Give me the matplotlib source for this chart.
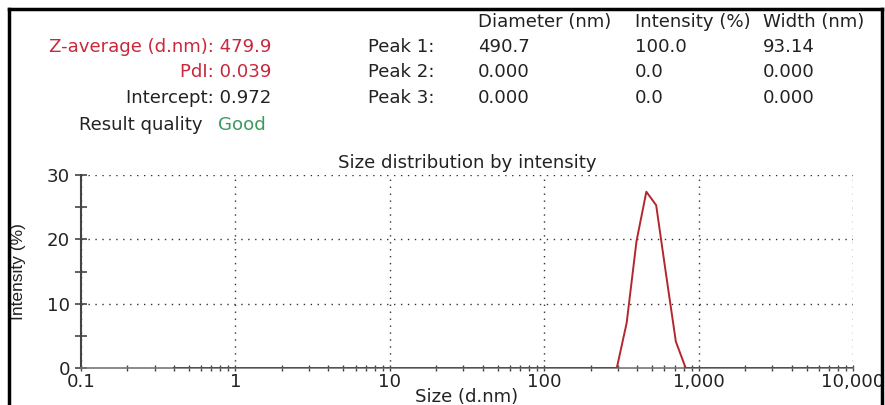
import matplotlib
matplotlib.use("Agg")
import matplotlib.pyplot as plt
from matplotlib.lines import Line2D
from matplotlib.ticker import FixedLocator, FuncFormatter, NullFormatter

plt.rcParams["font.family"] = ["DejaVu Sans"]

# size distribution by intensity
size_nm = [0.4, 295.3, 342.0, 396.1, 458.7, 531.2, 615.1, 712.4, 825.0, 10000]
intensity = [0.0, 0.0, 7.0, 19.7, 27.4, 25.3, 14.6, 4.1, 0.0, 0.0]

summary_labels = ["Z-average (d.nm): 479.9", "PdI: 0.039", "Intercept: 0.972"]
summary_colors = ["#c8283c", "#c8283c", "#222222"]
quality = "Good"

peak_names = ["Peak 1:", "Peak 2:", "Peak 3:"]
peak_cols = ["Diameter (nm)", "Intensity (%)", "Width (nm)"]
peak_diam = ["490.7", "0.000", "0.000"]
peak_int = ["100.0", "0.0", "0.0"]
peak_width = ["93.14", "0.000", "0.000"]

x_ticks = [0.1, 1, 10, 100, 1000, 10000]
x_ticklabels = ["0.1", "1", "10", "100", "1,000", "10,000"]

W, H = 885, 405
fig = plt.figure(figsize=(W / 100, H / 100), dpi=100)


def fx(px):
    return px / W


def fy(py):
    return 1 - py / H


txt = "#222222"
fs = 13.1

# summary block
rows_y = [47, 72, 98]
for lab, col, yy in zip(summary_labels, summary_colors, rows_y):
    fig.text(fx(271), fy(yy), lab, ha="right", va="center", fontsize=fs, color=col)
fig.text(fx(203), fy(125), "Result quality", ha="right", va="center", fontsize=fs, color=txt)
fig.text(fx(218), fy(125), quality, ha="left", va="center", fontsize=fs, color="#3d9a5c")

# peak table
col_x = [478, 635, 763]
for cx, name in zip(col_x, peak_cols):
    fig.text(fx(cx), fy(22), name, ha="left", va="center", fontsize=fs, color=txt)
for i, yy in enumerate(rows_y):
    fig.text(fx(368), fy(yy), peak_names[i], ha="left", va="center", fontsize=fs, color=txt)
    fig.text(fx(col_x[0]), fy(yy), peak_diam[i], ha="left", va="center", fontsize=fs, color=txt)
    fig.text(fx(col_x[1]), fy(yy), peak_int[i], ha="left", va="center", fontsize=fs, color=txt)
    fig.text(fx(col_x[2]), fy(yy), peak_width[i], ha="left", va="center", fontsize=fs, color=txt)

# plot area
ax = fig.add_axes([fx(81), fy(368), fx(853 - 81), (368 - 175) / H])
ax.plot(size_nm, intensity, color="#b3262e", lw=1.4, zorder=3)
ax.set_xscale("log")
ax.set_xlim(0.1, 10000)
ax.set_ylim(0, 30)

ax.spines["top"].set_visible(False)
ax.spines["right"].set_visible(False)
ax.spines["left"].set_color("#444444")
ax.spines["bottom"].set_color("#777777")
ax.spines["left"].set_linewidth(1.5)
ax.spines["bottom"].set_linewidth(1.2)

ax.xaxis.set_major_locator(FixedLocator(x_ticks))
ax.xaxis.set_major_formatter(FuncFormatter(lambda v, p: x_ticklabels[x_ticks.index(v)] if v in x_ticks else ""))
ax.xaxis.set_minor_formatter(NullFormatter())
ax.set_yticks([0, 10, 20, 30])
ax.set_yticks([5, 15, 25], minor=True)

ax.tick_params(axis="x", which="both", direction="inout", length=5, width=1, color="#444444",
               labelsize=fs, labelcolor=txt, pad=1)
ax.tick_params(axis="y", which="both", direction="inout", length=8, width=1.2, color="#444444",
               labelsize=fs, labelcolor=txt, pad=4)

ax.grid(True, which="major", linestyle=(0, (1, 4)), color="#333333", lw=1)
ax.set_axisbelow(True)

ax.set_title("Size distribution by intensity", fontsize=fs, color=txt, pad=5)
ax.set_xlabel("Size (d.nm)", fontsize=fs, color=txt, labelpad=-2)
ax.set_ylabel("Intensity (%)", fontsize=12.5, color=txt,
              family=["Liberation Sans Narrow", "Liberation Sans", "DejaVu Sans"])
ax.yaxis.set_label_coords(-0.071, 0.5)

# black frame (bottom cropped away)
kw = dict(transform=fig.transFigure, color="black", lw=2.5)
fig.add_artist(Line2D([fx(9), fx(9)], [0, fy(9)], **kw))
fig.add_artist(Line2D([fx(9), fx(882)], [fy(9), fy(9)], **kw))
fig.add_artist(Line2D([fx(882), fx(882)], [0, fy(9)], **kw))

fig.savefig("out.png", dpi=100, facecolor="white")
